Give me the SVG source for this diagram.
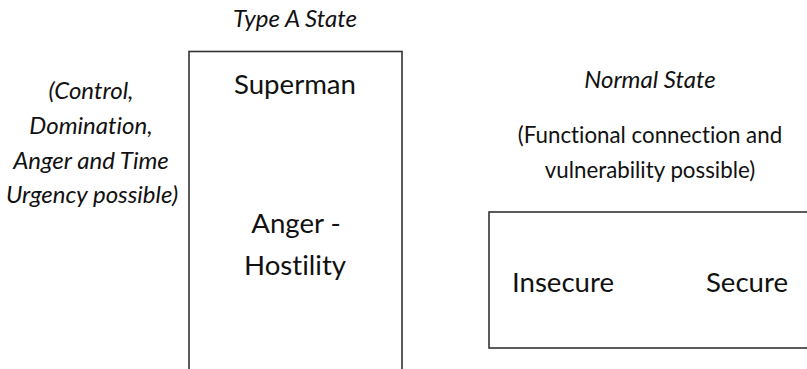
<svg xmlns="http://www.w3.org/2000/svg" width="807" height="369" viewBox="0 0 807 369">
  <style>
    .box { fill: none; stroke: #333; stroke-width: 1.6; }
    .t { font-family: Lato, "Open Sans", "Liberation Sans", sans-serif; fill: #111; text-anchor: middle; font-variant-ligatures: none; }
    .note { font-size: 24px; font-style: italic; }
    .para { font-size: 22.3px; }
    .big { font-size: 27.6px; }
  </style>
  <rect width="807" height="369" fill="#fff"/>

  <!-- Type A state column -->
  <g id="type-a-title">
    <text class="t note" x="295" y="27">Type A State</text>
  </g>
  <g id="type-a-note">
    <text class="t note" x="91" y="99">(Control,</text>
    <text class="t note" x="91" y="134">Domination,</text>
    <text class="t note" x="91" y="169">Anger and Time</text>
    <text class="t note" x="92" y="203">Urgency possible)</text>
  </g>
  <g id="type-a-box">
    <rect class="box" x="189" y="51.5" width="213" height="330"/>
    <text class="t big" x="295" y="94">Superman</text>
    <text class="t big" x="296" y="233">Anger -</text>
    <text class="t big" x="295" y="275">Hostility</text>
  </g>

  <!-- Normal state column -->
  <g id="normal-title">
    <text class="t note" x="650" y="88">Normal State</text>
  </g>
  <g id="normal-note">
    <text class="t para" x="650" y="143">(Functional connection and</text>
    <text class="t para" x="650" y="178">vulnerability possible)</text>
  </g>
  <g id="normal-box">
    <rect class="box" x="489" y="212" width="340" height="136"/>
    <text class="t big" x="563" y="292">Insecure</text>
    <text class="t big" x="747" y="292">Secure</text>
  </g>

  <g id="connectors"></g>
</svg>
